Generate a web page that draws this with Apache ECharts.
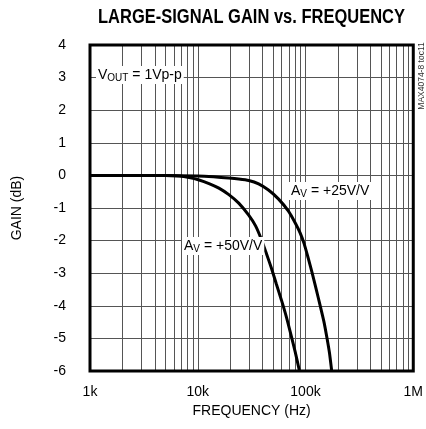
<!DOCTYPE html>
<html>
<head>
<meta charset="utf-8">
<script src="https://cdn.jsdelivr.net/npm/echarts@6/dist/echarts.min.js"></script>
<style>html,body{margin:0;padding:0;background:#fff;}#c{width:426px;height:429px;}</style>
</head>
<body>
<div id="c"></div>
<script>
var FONT = "'Liberation Sans','Arial',sans-serif";
var titleText = 'LARGE-SIGNAL GAIN vs. FREQUENCY';
var xName = 'FREQUENCY (Hz)';
var yName = 'GAIN (dB)';
var xTickLabels = {1000: '1k', 10000: '10k', 100000: '100k', 1000000: '1M'};
var gain50 = [[1000,0],[3000,0],[5000,-0.005],[6730,-0.02],[8320,-0.065],[10280,-0.14],[12720,-0.25],[15710,-0.39],[19430,-0.59],[24000,-0.85],[29700,-1.22],[34400,-1.55],[39100,-1.98],[43500,-2.41],[48300,-2.85],[53700,-3.34],[59700,-3.82],[66400,-4.34],[73800,-4.93],[80300,-5.42],[86900,-5.93],[88000,-6.02]];
var gain25 = [[1000,0],[5000,0],[10000,-0.02],[14000,-0.045],[19400,-0.08],[24000,-0.11],[29700,-0.155],[36700,-0.26],[45300,-0.45],[56000,-0.72],[69200,-1.09],[80300,-1.46],[89300,-1.77],[97200,-2.1],[105800,-2.53],[115200,-2.99],[125400,-3.48],[136400,-3.98],[148500,-4.5],[158200,-4.99],[166900,-5.45],[174100,-5.94],[175000,-6.02]];
var labelVout = 'V{sub|OUT} = 1Vp-p';
var label25 = 'A{sub|V} = +25V/V';
var label50 = 'A{sub|V} = +50V/V';
var sideNote = 'MAX4074-8 toc11';

var minorX = [];
[1000, 10000, 100000].forEach(function (d) {
  for (var k = 2; k <= 9; k++) minorX.push({xAxis: d * k});
});
minorX.push({xAxis: 10000}, {xAxis: 100000});

// horizontal squeeze to imitate a condensed face
var mc = document.createElement('canvas').getContext('2d');
mc.font = "bold 20px 'Liberation Sans'";
var titleW = mc.measureText(titleText).width;
var titleScale = 307 / titleW;

var chart = echarts.init(document.getElementById('c'), null, {renderer: 'canvas'});
var rich = {
  sub: {fontSize: 10, fontFamily: FONT, color: '#000', verticalAlign: 'bottom', padding: [6, 0, 0, 0]}
};
function annot(x, y, text) {
  return {
    type: 'text', left: x, top: y, z: 100,
    style: {
      text: text, fontFamily: FONT, fontSize: 14, fill: '#000',
      backgroundColor: '#fff', padding: [1, 2, 1, 2], rich: rich
    }
  };
}
chart.setOption({
  animation: false,
  backgroundColor: '#fff',
  grid: {left: 90, right: 10, top: 45, bottom: 58, show: true, borderColor: '#000', borderWidth: 3, backgroundColor: 'transparent', z: 10},
  graphic: [
    {type: 'text', x: 98, y: 7, scaleX: titleScale, style: {text: titleText, fontFamily: "'Liberation Sans'", fontWeight: 'bold', fontSize: 20, fill: '#000'}},
    {type: 'text', x: 426, y: 76, rotation: Math.PI / 2, style: {text: sideNote, fontFamily: FONT, fontSize: 8.5, fill: '#333', align: 'center', verticalAlign: 'bottom'}},
    annot(96, 66, labelVout),
    annot(289, 182, label25),
    annot(182, 237, label50)
  ],
  xAxis: {
    type: 'log', logBase: 10, min: 1000, max: 1000000,
    name: xName, nameLocation: 'middle', nameGap: 32,
    nameTextStyle: {fontFamily: FONT, fontSize: 14, color: '#000'},
    axisLine: {show: false}, axisTick: {show: false},
    axisLabel: {fontFamily: FONT, fontSize: 14, color: '#000', margin: 14, formatter: function (v) { return xTickLabels[Math.round(v)] || ''; }},
    splitLine: {show: false}
  },
  yAxis: {
    type: 'value', min: -6, max: 4, interval: 1,
    name: yName, nameLocation: 'middle', nameGap: 66, nameRotate: 90,
    nameTextStyle: {fontFamily: FONT, fontSize: 14, color: '#000'},
    axisLine: {show: false}, axisTick: {show: false},
    axisLabel: {fontFamily: FONT, fontSize: 14, color: '#000', margin: 24},
    splitLine: {show: true, lineStyle: {color: '#555', width: 1}}
  },
  series: [
    {type: 'line', data: gain50, smooth: 0.2, showSymbol: false, clip: true, z: 5,
     lineStyle: {color: '#000', width: 3},
     markLine: {silent: true, symbol: 'none', label: {show: false}, lineStyle: {color: '#555', width: 1, type: 'solid'}, data: minorX, z: 1}},
    {type: 'line', data: gain25, smooth: 0.2, showSymbol: false, clip: true, z: 5,
     lineStyle: {color: '#000', width: 3}}
  ]
});
</script>
</body>
</html>
